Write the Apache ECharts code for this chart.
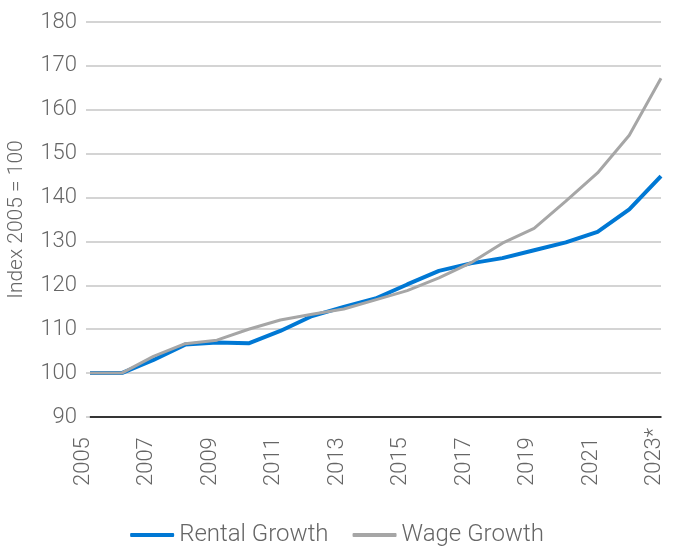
<!DOCTYPE html>
<html>
<head>
<meta charset="utf-8">
<script src="https://cdn.jsdelivr.net/npm/echarts@6/dist/echarts.min.js"></script>
<style>
  html, body { margin: 0; padding: 0; background: #fff; }
  #chart { width: 674px; height: 553px; }
</style>
</head>
<body>
<div id="chart"></div>
<script>
// years on the x axis (last one is an estimate)
const years = ['2005', '2006', '2007', '2008', '2009', '2010', '2011', '2012', '2013', '2014',
  '2015', '2016', '2017', '2018', '2019', '2020', '2021', '2022', '2023*']
const rentalGrowth = [100, 100, 103, 106.5, 107, 106.8, 109.6, 113, 115.1, 117,
  120.2, 123.3, 125, 126.2, 128, 129.8, 132.2, 137.3, 144.9]
const wageGrowth = [100, 100, 103.8, 106.7, 107.5, 110, 112.1, 113.4, 114.6, 116.7,
  118.8, 121.7, 125.1, 129.6, 133, 139.2, 145.6, 154.2, 167.2]
const yTicks = { min: 90, max: 180, interval: 10 }

const font = 'Roboto, "Noto Sans", sans-serif'
const textColor = '#666666'

const myChart = echarts.init(document.getElementById('chart'))
myChart.setOption({
  animation: false,
  textStyle: { fontFamily: font },
  grid: {
    left: 90,
    right: 13,
    top: 22,
    bottom: 136,
    outerBoundsMode: 'none'
  },
  legend: {
    top: 518,
    left: 'center',
    itemWidth: 44,
    itemHeight: 4,
    itemGap: 24,
    icon: 'roundRect',
    textStyle: { fontSize: 24, fontWeight: 300, color: textColor, fontFamily: font },
    data: ['Rental Growth', 'Wage Growth']
  },
  xAxis: {
    type: 'category',
    boundaryGap: false,
    data: years,
    axisLine: { lineStyle: { color: '#000000', width: 1.5 } },
    axisTick: { show: false },
    axisLabel: {
      interval: 1,
      rotate: 90,
      align: 'left',
      verticalAlign: 'bottom',
      lineHeight: 13,
      margin: 69,
      fontSize: 22,
      fontWeight: 300,
      color: textColor,
      fontFamily: font
    }
  },
  yAxis: {
    type: 'value',
    min: yTicks.min,
    max: yTicks.max,
    interval: yTicks.interval,
    name: 'Index 2005 = 100',
    nameLocation: 'middle',
    nameGap: 63,
    nameTextStyle: { fontSize: 21, fontWeight: 300, color: textColor, fontFamily: font },
    axisLine: { show: false },
    axisTick: { show: true, length: 4, lineStyle: { color: '#c6c6c6', width: 1.5 } },
    axisLabel: { margin: 13, fontSize: 22, fontWeight: 300, color: textColor, fontFamily: font },
    splitLine: { lineStyle: { color: '#c6c6c6', width: 1.5 } }
  },
  series: [
    {
      name: 'Rental Growth',
      type: 'line',
      data: rentalGrowth,
      showSymbol: false,
      itemStyle: { color: '#0078d4' },
      lineStyle: { color: '#0078d4', width: 4 }
    },
    {
      name: 'Wage Growth',
      type: 'line',
      data: wageGrowth,
      showSymbol: false,
      itemStyle: { color: '#a6a6a6' },
      lineStyle: { color: '#a6a6a6', width: 3 }
    }
  ]
})
window.addEventListener('resize', () => {
  myChart.resize()
})
</script>
</body>
</html>
